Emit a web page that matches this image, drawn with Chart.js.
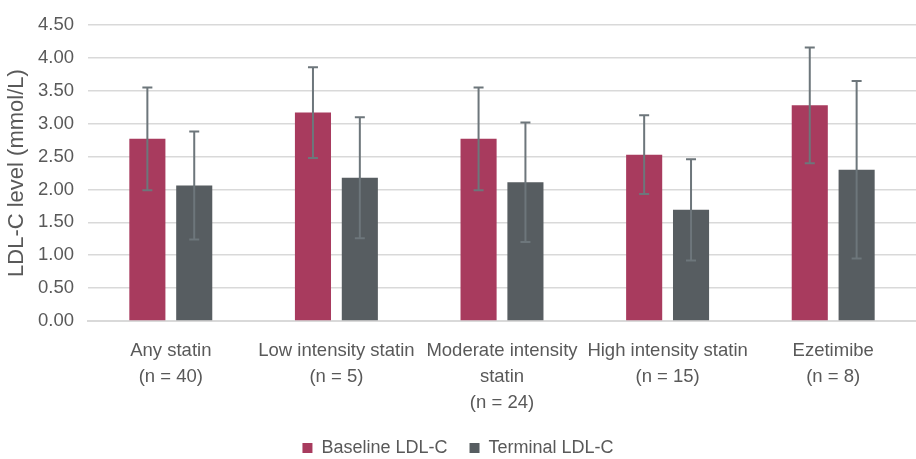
<!DOCTYPE html>
<html>
<head>
<meta charset="utf-8">
<script src="https://cdn.jsdelivr.net/npm/chart.js@4/dist/chart.umd.min.js"></script>
<style>
  html, body { margin: 0; padding: 0; background: #ffffff; }
  #wrap { width: 916px; height: 459px; }
</style>
</head>
<body>
<div id="wrap"><canvas id="c" width="916" height="459"></canvas></div>
<script>
// Treatment groups (x-axis categories, multi-line)
const categories = [
  ["Any statin", "(n = 40)"],
  ["Low intensity statin", "(n = 5)"],
  ["Moderate intensity", "statin", "(n = 24)"],
  ["High intensity statin", "(n = 15)"],
  ["Ezetimibe", "(n = 8)"]
];

// Mean LDL-C (mmol/L) and standard deviations
const baselineMean = [2.77, 3.17, 2.77, 2.53, 3.28];
const baselineSD   = [0.78, 0.69, 0.78, 0.60, 0.88];
const terminalMean = [2.06, 2.18, 2.11, 1.69, 2.30];
const terminalSD   = [0.82, 0.92, 0.91, 0.77, 1.35];

// Y axis range and step
const yMin = 0;
const yMax = 4.5;
const yStep = 0.5;

const textColor = '#595959';
const fontFamily = '"Liberation Sans", Arial, sans-serif';

// Draws mean ± SD whiskers on top of each bar
const errorBars = {
  id: 'errorBars',
  afterDatasetsDraw(chart) {
    const ctx = chart.ctx;
    const y = chart.scales.y;
    chart.data.datasets.forEach((ds, di) => {
      const meta = chart.getDatasetMeta(di);
      if (meta.hidden) return;
      meta.data.forEach((bar, i) => {
        const m = ds.data[i];
        const sd = ds.sd[i];
        const top = y.getPixelForValue(m + sd);
        const bot = y.getPixelForValue(m - sd);
        const x = bar.x;
        const cap = 5;
        ctx.save();
        ctx.strokeStyle = '#6d767b';
        ctx.lineWidth = 2;
        ctx.beginPath();
        ctx.moveTo(x, top); ctx.lineTo(x, bot);
        ctx.moveTo(x - cap, top); ctx.lineTo(x + cap, top);
        ctx.moveTo(x - cap, bot); ctx.lineTo(x + cap, bot);
        ctx.stroke();
        ctx.restore();
      });
    });
  }
};

new Chart(document.getElementById('c'), {
  type: 'bar',
  data: {
    labels: categories,
    datasets: [
      {
        label: 'Baseline LDL-C',
        data: baselineMean,
        sd: baselineSD,
        backgroundColor: '#a83b5e',
        barPercentage: 0.77,
        categoryPercentage: 0.566
      },
      {
        label: 'Terminal LDL-C',
        data: terminalMean,
        sd: terminalSD,
        backgroundColor: '#575d61',
        barPercentage: 0.77,
        categoryPercentage: 0.566
      }
    ]
  },
  options: {
    responsive: false,
    animation: false,
    devicePixelRatio: 1,
    layout: { padding: { top: 12, right: 0, bottom: -8, left: 0 } },
    plugins: {
      legend: {
        position: 'bottom',
        labels: {
          color: textColor,
          font: { family: fontFamily, size: 18 },
          boxWidth: 10,
          boxHeight: 10,
          padding: 22
        }
      },
      tooltip: { enabled: false },
      title: { display: false }
    },
    scales: {
      x: {
        grid: { display: false, drawTicks: false },
        border: { display: true, color: '#d9d9d9', width: 2 },
        ticks: {
          color: textColor,
          font: { family: fontFamily, size: 18.5, lineHeight: 1.4 },
          padding: 17,
          maxRotation: 0,
          minRotation: 0,
          autoSkip: false
        },
        afterFit(scale) { scale.height = 96; }
      },
      y: {
        min: yMin,
        max: yMax,
        grid: { color: '#d9d9d9', lineWidth: 1.5, drawTicks: false },
        border: { display: false },
        ticks: {
          stepSize: yStep,
          color: textColor,
          font: { family: fontFamily, size: 18.5 },
          padding: 14,
          callback: v => Number(v).toFixed(2)
        },
        title: {
          display: true,
          text: 'LDL-C level (mmol/L)',
          color: textColor,
          font: { family: fontFamily, size: 22 },
          padding: { top: 4, bottom: 0 }
        },
        afterFit(scale) { scale.width = 88; }
      }
    }
  },
  plugins: [errorBars]
});
</script>
</body>
</html>
